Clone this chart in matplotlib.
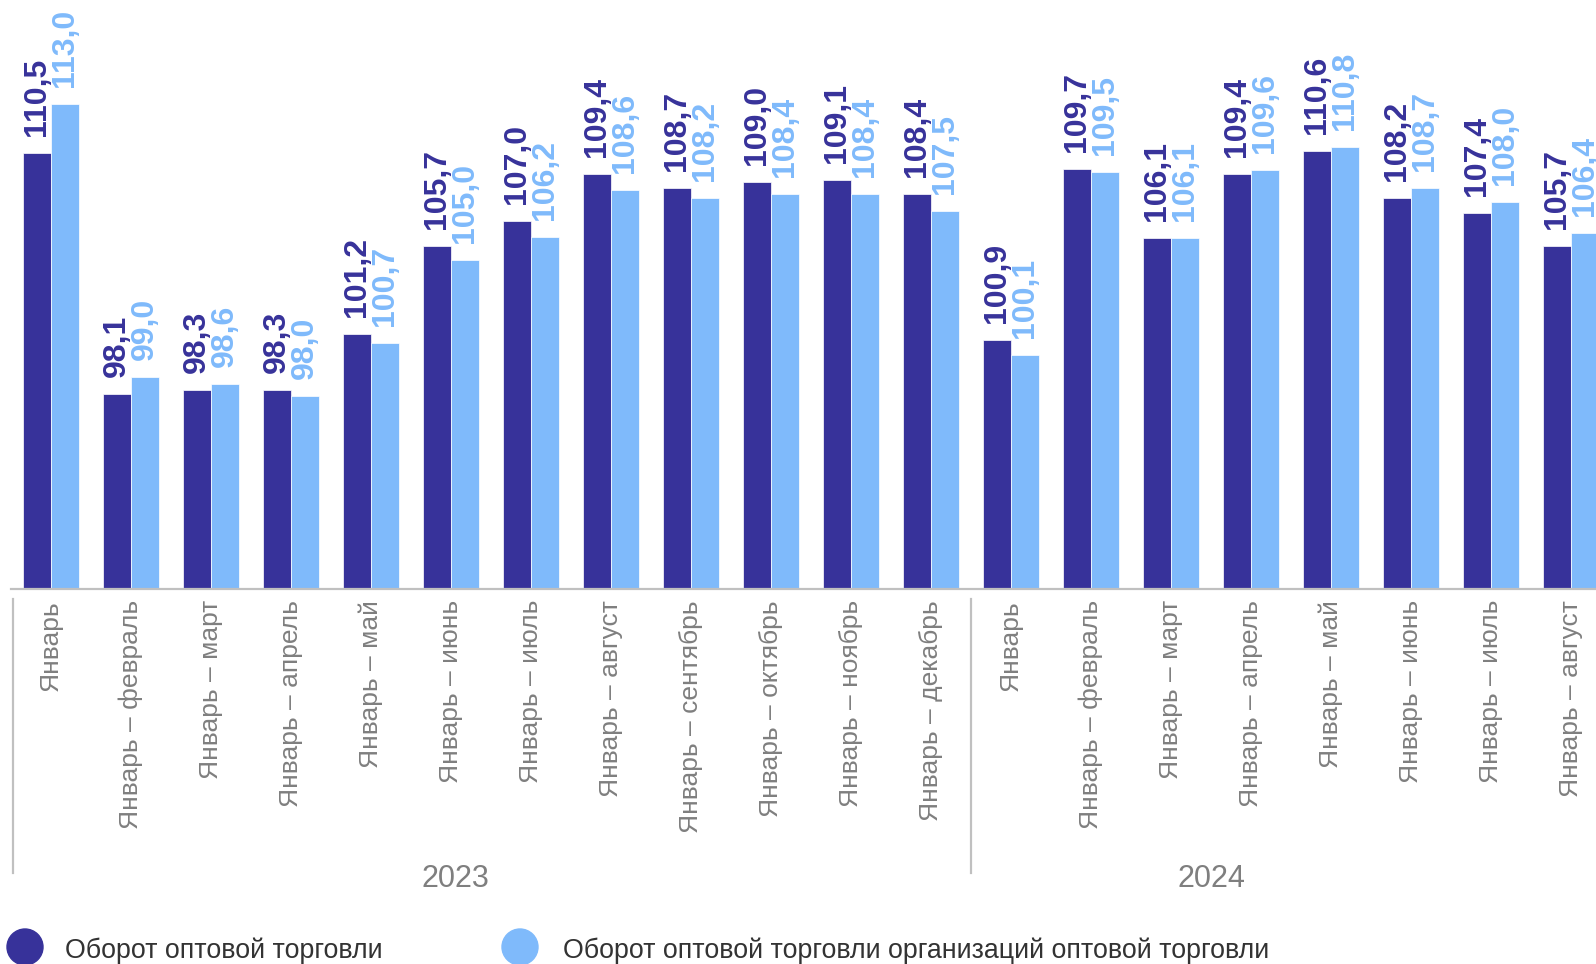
import matplotlib
matplotlib.use("Agg")
import matplotlib.pyplot as plt
from matplotlib.patches import Circle
from matplotlib.transforms import IdentityTransform, blended_transform_factory
import numpy as np

plt.rcParams['font.family'] = ['Liberation Sans', 'DejaVu Sans']

# data
categories = ["Январь", "Январь – февраль", "Январь – март", "Январь – апрель",
              "Январь – май", "Январь – июнь", "Январь – июль", "Январь – август",
              "Январь – сентябрь", "Январь – октябрь", "Январь – ноябрь", "Январь – декабрь",
              "Январь", "Январь – февраль", "Январь – март", "Январь – апрель",
              "Январь – май", "Январь – июнь", "Январь – июль", "Январь – август"]
years = ["2023", "2024"]
year_sizes = [12, 8]
turnover = [110.5, 98.1, 98.3, 98.3, 101.2, 105.7, 107.0, 109.4, 108.7, 109.0,
            109.1, 108.4, 100.9, 109.7, 106.1, 109.4, 110.6, 108.2, 107.4, 105.7]
turnover_org = [113.0, 99.0, 98.6, 98.0, 100.7, 105.0, 106.2, 108.6, 108.2, 108.4,
                108.4, 107.5, 100.1, 109.5, 106.1, 109.6, 110.8, 108.7, 108.0, 106.4]
series_names = ["Оборот оптовой торговли",
                "Оборот оптовой торговли организаций оптовой торговли"]

dark = '#37329a'
light = '#7fbafb'
gray = '#7f7f7f'

W, H = 1596, 964
fig = plt.figure(figsize=(W / 100, H / 100), dpi=100)
ax = fig.add_axes([11 / W, (H - 589) / H, (W - 11) / W, 589 / H])

x = np.arange(len(categories))
bw = 0.356
ax.bar(x - bw / 2, turnover, bw, color=dark, edgecolor='white', linewidth=0.5)
ax.bar(x + bw / 2, turnover_org, bw, color=light, edgecolor='white', linewidth=0.5)

for xi, v in zip(x, turnover):
    ax.annotate(f"{v:.1f}".replace('.', ','), (xi - bw / 2, v), xytext=(0, 17),
                textcoords='offset pixels', rotation=90, ha='center', va='bottom',
                fontsize=23, fontweight='bold', color=dark, annotation_clip=False)
for xi, v in zip(x, turnover_org):
    ax.annotate(f"{v:.1f}".replace('.', ','), (xi + bw / 2, v), xytext=(0, 17),
                textcoords='offset pixels', rotation=90, ha='center', va='bottom',
                fontsize=23, fontweight='bold', color=light, annotation_clip=False)

ax.set_xlim(-0.5, -0.5 + (W - 11) / 80)
ax.set_ylim(88.07, 88.07 + 589 / 19.44)
ax.set_xticks(x, categories, rotation=90, fontsize=19, color=gray)
ax.tick_params(axis='x', length=0, pad=8)
ax.set_yticks([])
for s in ['top', 'right', 'left']:
    ax.spines[s].set_visible(False)
ax.spines['bottom'].set_color('#c0c0c0')
ax.spines['bottom'].set_linewidth(1.6)

# year group separators and labels
tr = blended_transform_factory(ax.transData, ax.transAxes)
start = 0
for name, n in zip(years, year_sizes):
    xs = start - 0.5 + (0.025 if start == 0 else 0)
    ax.plot([xs, xs], [-0.017, -0.482], color='#c0c0c0', lw=1.6,
            transform=tr, clip_on=False)
    start += n
ax.text(5.06, -0.492, years[0], transform=tr, ha='center', va='center',
        fontsize=22, color=gray)
ax.text(14.51, -0.492, years[1], transform=tr, ha='center', va='center',
        fontsize=22, color=gray)

# legend
for (cx, tx), c, name in zip([(25, 65), (520, 563)], [dark, light], series_names):
    fig.add_artist(Circle((cx, H - 947), 18, color=c, transform=IdentityTransform()))
    fig.text(tx / W, (H - 951) / H, name, ha='left', va='center',
             fontsize=19.3, color='#333333')

fig.savefig('out.png', dpi=100)
